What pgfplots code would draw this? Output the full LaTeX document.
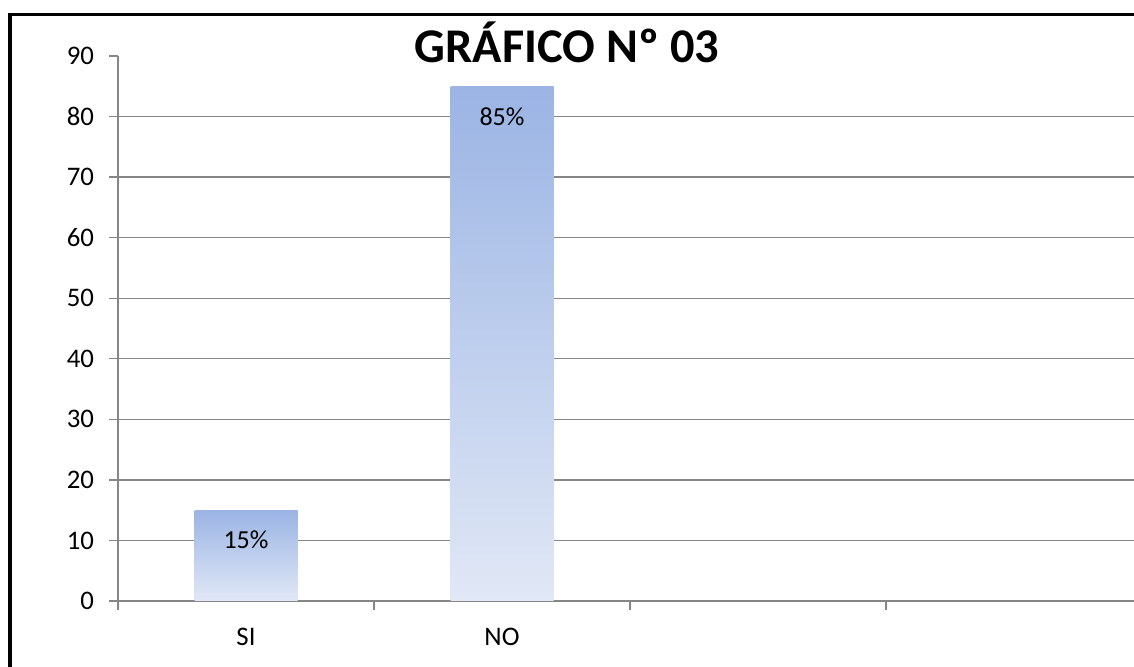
\documentclass[border=0pt]{standalone}
\usepackage{pgfplots}
\pgfplotsset{compat=1.18}
\usepackage{fontspec}
\setmainfont{Carlito}
\definecolor{gridgray}{RGB}{134,134,134}
\definecolor{bartop}{RGB}{155,180,228}
\definecolor{barbot}{RGB}{225,232,246}
\begin{document}
\begin{tikzpicture}
\path[use as bounding box] (0pt,0pt) rectangle (567pt,333.5pt);
\begin{scope}
\clip (0pt,0pt) rectangle (567pt,333.5pt);
\begin{axis}[
  at={(59pt,33pt)}, anchor=south west,
  scale only axis, width=512pt, height=272.5pt,
  xmin=-0.5, xmax=3.5, ymin=0, ymax=90,
  axis x line*=bottom, axis y line*=left,
  axis line style={draw=gridgray, line width=0.7pt, -},
  ytick={0,10,...,80}, extra y ticks={90},
  extra y tick style={grid=none},
  ymajorgrids, grid style={draw=gridgray, line width=0.7pt},
  xtick={-0.5,0.5,1.5,2.5,3.5}, xticklabels={},
  extra x ticks={0,1}, extra x tick labels={SI,NO},
  extra x tick style={major tick length=0pt},
  tick align=outside, major tick length=4.5pt,
  tick style={draw=gridgray, line width=0.7pt},
  tick label style={font=\fontsize{13.4}{16}\selectfont, text=black},
  /pgf/number format/assume math mode=true,
  yticklabel style={xshift=-4pt},
  xticklabel style={yshift=-10pt},
  ybar, bar width=51.5pt, bar shift=0pt,
  nodes near coords={\pgfmathprintnumber{\pgfplotspointmeta}\%},
  every node near coord/.append style={anchor=center, yshift=-15pt, font=\fontsize{13}{16}\selectfont, text=black},
]
\addplot[draw=none, top color=bartop, bottom color=barbot] coordinates {(0,15)};
\addplot[draw=none, top color=bartop, bottom color=barbot] coordinates {(1,85)};
\end{axis}
\end{scope}
\node[anchor=base, font=\fontsize{24.2}{28}\selectfont\bfseries] at (283.5pt,302pt) {GRÁFICO Nº 03};
\draw[line width=2pt] (5pt,0pt) -- (5pt,326.1pt);
\draw[line width=1.5pt] (4pt,326.1pt) -- (567pt,326.1pt);
\end{tikzpicture}
\end{document}
